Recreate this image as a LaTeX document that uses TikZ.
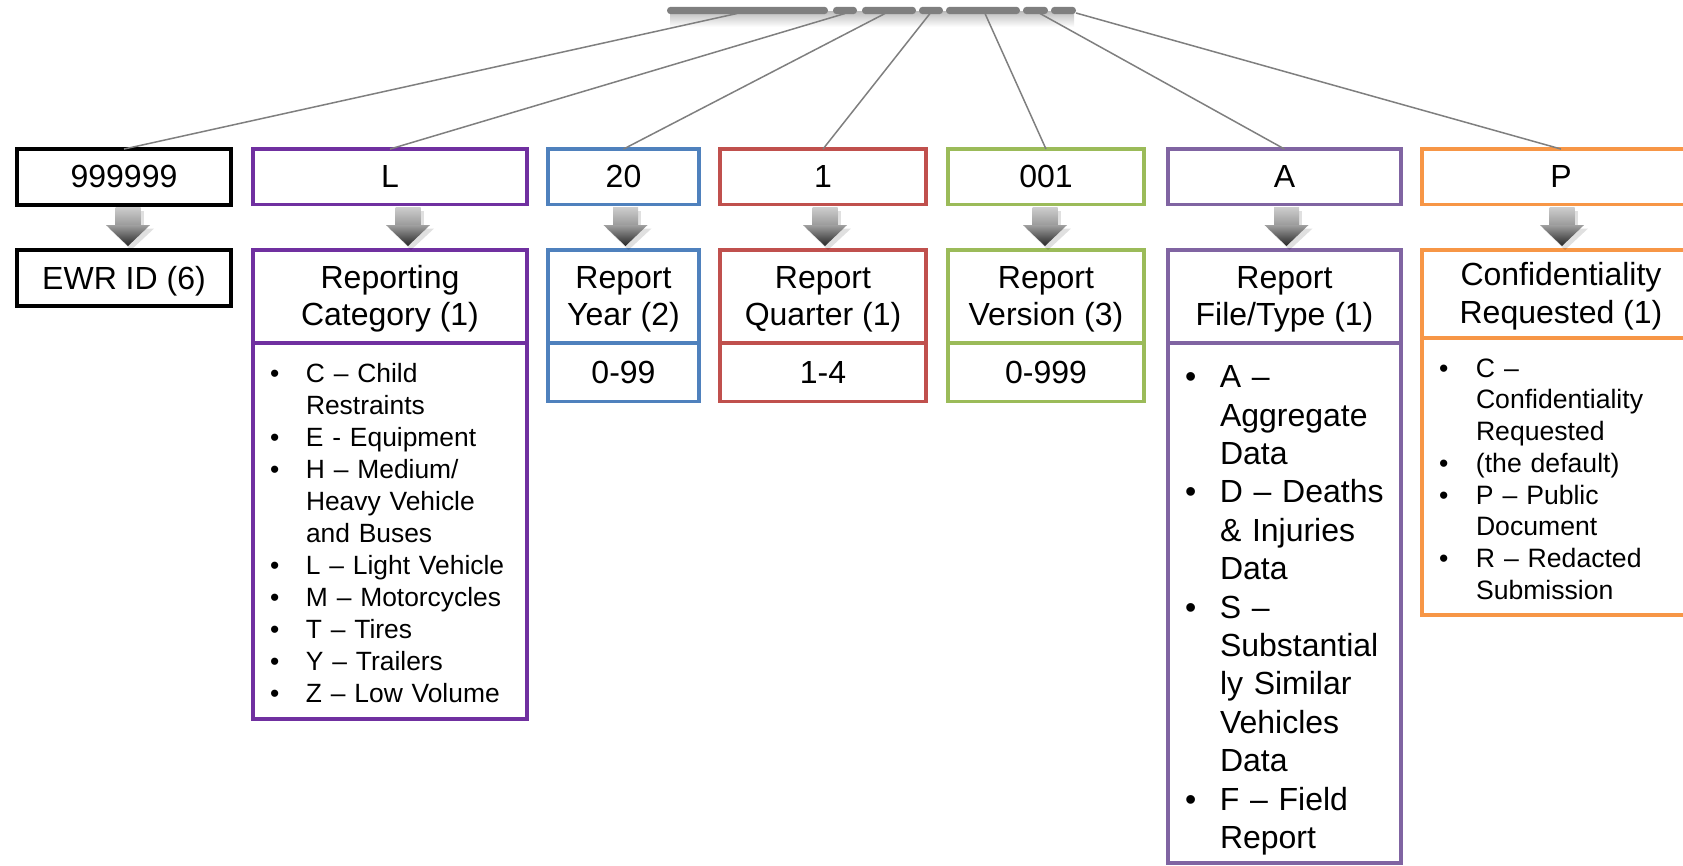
\documentclass[tikz,border=0pt]{standalone}
\usepackage{fontspec}
\setmainfont{Liberation Sans}
\usepackage{tikz}
\usetikzlibrary{calc}
\usetikzlibrary{positioning}
\definecolor{catpurple}{HTML}{7030A0}
\definecolor{yearblue}{HTML}{4F81BD}
\definecolor{qtrred}{HTML}{C0504D}
\definecolor{vergreen}{HTML}{9BBB59}
\definecolor{typepurple}{HTML}{8064A2}
\definecolor{conforange}{HTML}{F79646}
\definecolor{linegray}{HTML}{7F7F7F}
\newcommand{\hdfont}{\fontsize{16}{18.8}\selectfont}
\newcommand{\lowered}[2]{\raisebox{-#1}[\height][\depth]{#2}}
\newcommand{\twoline}[2]{\lowered{1.5pt}{\begin{tabular}{@{}c@{}}#1\\#2\end{tabular}}}

\begin{document}
\begin{tikzpicture}[x=0.5pt, y=-0.5pt,
    box/.style={draw, line width=1.75pt, fill=white, outer sep=0pt, inner sep=0pt, align=center, font=\hdfont},
    field/.style={box, minimum height=27.75pt},
    head/.style={box, minimum height=46.5pt},
    vals/.style={box, minimum height=29.25pt},
    items/.style={box, align=left, inner xsep=8.5pt, font=\fontsize{13.2}{16}\selectfont},
    seg/.style={fill=linegray, rounded corners=1.8pt},
    link/.style={draw=linegray, line width=0.75pt}]

      \newcommand\flowarrow[3]{%
        \fill [black, opacity=0.12] ($(#1.south)+(#3-10.5,6)$) rectangle ($(#1.south)+(#3+15.5,24)$);
        \fill [black, opacity=0.12] ($(#1.south)+(#3-19,24)$) -- ($(#1.south)+(#3+26,24)$) -- ($(#2.north)+(#3+3,0)$) -- cycle;
        \shade [top color=gray!40, bottom color=gray!80] ($(#1.south)+(#3-12.5,3)$) rectangle ($(#1.south)+(#3+12.5,21)$);
        \shade [top color=gray!75, bottom color=black!85] ($(#1.south)+(#3-22,20.5)$) -- ($(#1.south)+(#3+22,20.5)$) -- ($(#2.north)+(#3,-4)$) -- cycle;}

      \useasboundingbox (0,0) rectangle (1683,866);

      \shade [top color=black!25, bottom color=white] (670,12) rectangle (1074,27);
      \fill [seg] (667,6.8) rectangle (828,14.2);
      \fill [seg] (833,6.8) rectangle (857,14.2);
      \fill [seg] (862,6.8) rectangle (916,14.2);
      \fill [seg] (919,6.8) rectangle (943,14.2);
      \fill [seg] (946,6.8) rectangle (1020,14.2);
      \fill [seg] (1023,6.8) rectangle (1048,14.2);
      \fill [seg] (1051,6.8) rectangle (1076,14.2);
      \coordinate (s1) at (737,13.5);
      \coordinate (s2) at (845,13.5);
      \coordinate (s3) at (885,13.5);
      \coordinate (s4) at (930,13.5);
      \coordinate (s5) at (985,13.5);
      \coordinate (s6) at (1040,13.5);
      \coordinate (s7) at (1076,13);

      \node [field, line width=2pt, minimum width=107pt] (idval) at (124,176.8) {999999};
      \node [field, line width=2pt, minimum width=107pt] (idname) at (124,277.8) {\lowered{1.5pt}{EWR ID (6)}};

      \node [field, draw=catpurple, minimum width=137pt] (catval) at (390,176.8) {L};
      \node [head, draw=catpurple, minimum width=137pt] (cathead) at (390,296.5) {\twoline{Reporting}{Category (1)}};
      \node [items, draw=catpurple, text width=120pt, minimum height=188pt, below=0pt of cathead] (catlist) {\lowered{2.7pt}{%
        \begin{tabular}{@{}p{18pt}@{}l@{}}
        \textbullet & C – Child\\ & Restraints\\
        \textbullet & E - Equipment\\
        \textbullet & H – Medium/\\ & Heavy Vehicle\\ & and Buses\\
        \textbullet & L – Light Vehicle\\
        \textbullet & M – Motorcycles\\
        \textbullet & T – Tires\\
        \textbullet & Y – Trailers\\
        \textbullet & Z – Low Volume
        \end{tabular}}};

      \node [field, draw=yearblue, minimum width=75.5pt] (yearval) at (623.5,176.8) {20};
      \node [head, draw=yearblue, minimum width=75.5pt] (yearhead) at (623.5,296.5) {\twoline{Report}{Year (2)}};
      \node [vals, draw=yearblue, minimum width=75.5pt, below=0pt of yearhead] (yearrange) {0-99};

      \node [field, draw=qtrred, minimum width=103pt] (qtrval) at (823,176.8) {1};
      \node [head, draw=qtrred, minimum width=103pt] (qtrhead) at (823,296.5) {\twoline{Report}{Quarter (1)}};
      \node [vals, draw=qtrred, minimum width=103pt, below=0pt of qtrhead] (qtrrange) {1-4};

      \node [field, draw=vergreen, minimum width=98pt] (verval) at (1046,176.8) {001};
      \node [head, draw=vergreen, minimum width=98pt] (verhead) at (1046,296.5) {\twoline{Report}{Version (3)}};
      \node [vals, draw=vergreen, minimum width=98pt, below=0pt of verhead] (verrange) {0-999};

      \node [field, draw=typepurple, minimum width=116.5pt] (typeval) at (1284.5,176.8) {A};
      \node [head, draw=typepurple, minimum width=116.5pt] (typehead) at (1284.5,296.5) {\twoline{Report}{File/Type (1)}};
      \node [items, draw=typepurple, font=\fontsize{16}{19.2}\selectfont, text width=99.5pt, minimum height=260pt, below=0pt of typehead] (typelist) {\lowered{3.7pt}{%
        \begin{tabular}{@{}p{17.5pt}@{}l@{}}
        \textbullet & A –\\ & Aggregate\\ & Data\\
        \textbullet & D – Deaths\\ & \& Injuries\\ & Data\\
        \textbullet & S –\\ & Substantial\\ & ly Similar\\ & Vehicles\\ & Data\\
        \textbullet & F – Field\\ & Report
        \end{tabular}}};

      \node [field, draw=conforange, minimum width=139pt] (confval) at (1561,176.8) {P};
      \node [box, draw=conforange, minimum width=139pt, minimum height=44pt] (confhead) at (1561,294) {\twoline{Confidentiality}{Requested (1)}};
      \node [items, draw=conforange, font=\fontsize{13.3}{15.85}\selectfont, text width=122pt, minimum height=138.5pt, below=0pt of confhead] (conflist) {\lowered{2.7pt}{%
        \begin{tabular}{@{}p{18.5pt}@{}l@{}}
        \textbullet & C –\\ & Confidentiality\\ & Requested\\
        \textbullet & (the default)\\
        \textbullet & P – Public\\ & Document\\
        \textbullet & R – Redacted\\ & Submission
        \end{tabular}}};

      \draw [link] (s1) -- (idval.north);
      \draw [link] (s2) -- (catval.north);
      \draw [link] (s3) -- (yearval.north);
      \draw [link] (s4) -- (qtrval.north);
      \draw [link] (s5) -- (verval.north);
      \draw [link] (s6) -- (typeval.north);
      \draw [link] (s7) -- (confval.north);

      \flowarrow{idval}{idname}{4}
      \flowarrow{catval}{cathead}{18}
      \flowarrow{yearval}{yearhead}{2}
      \flowarrow{qtrval}{qtrhead}{2}
      \flowarrow{verval}{verhead}{-1}
      \flowarrow{typeval}{typehead}{2}
      \flowarrow{confval}{confhead}{1}

    \end{tikzpicture}
\end{document}
